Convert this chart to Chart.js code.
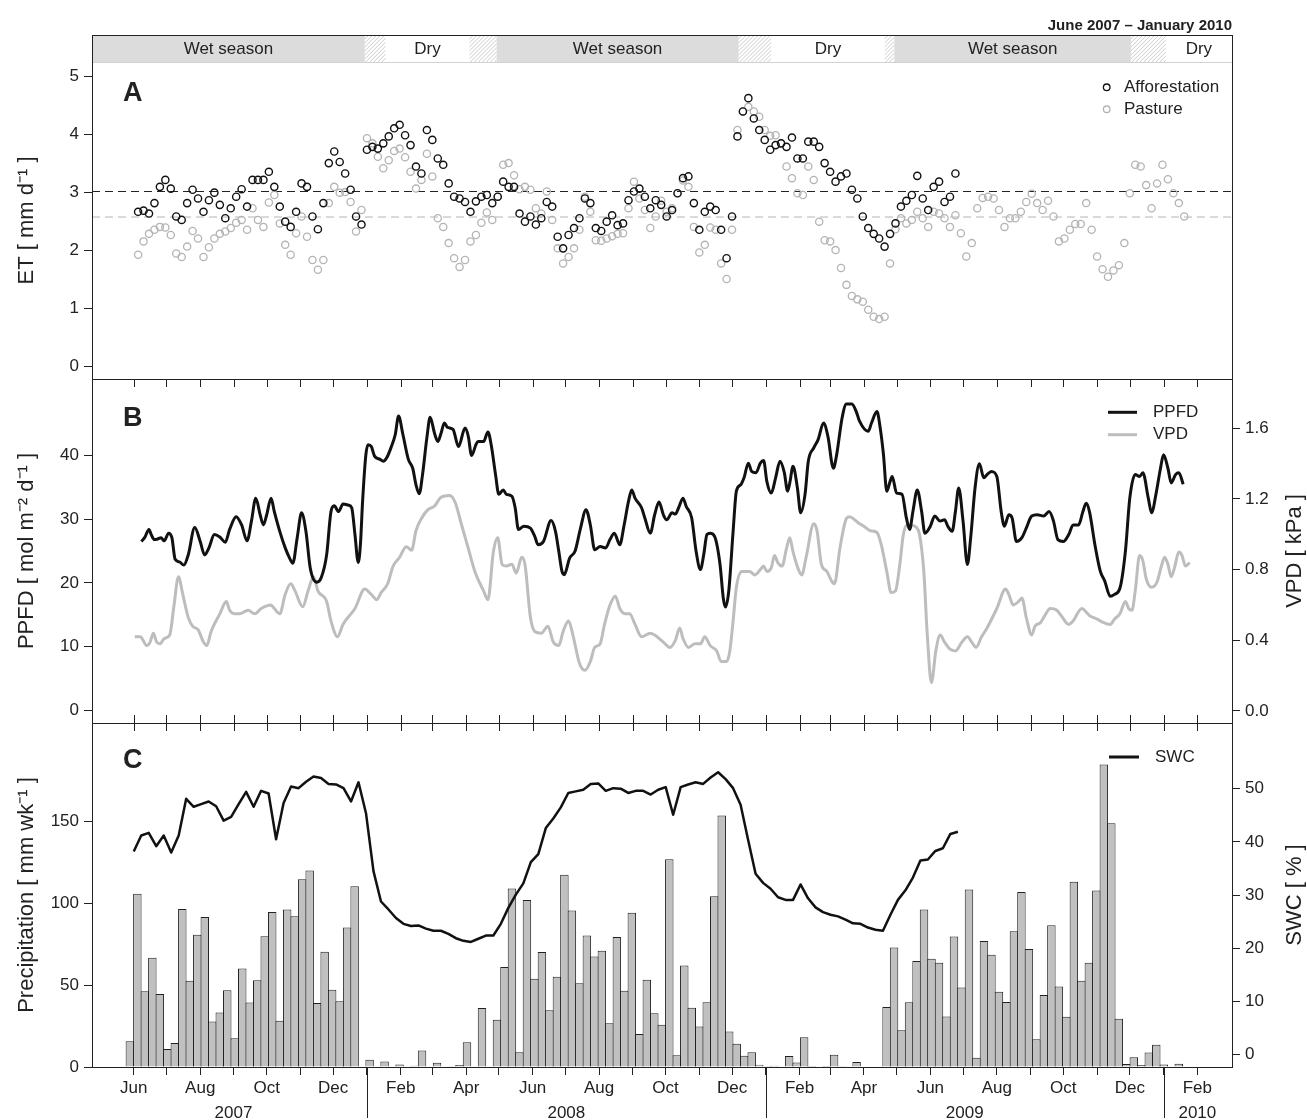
<!DOCTYPE html>
<html lang="en">
<head>
<meta charset="utf-8">
<title>ET, PPFD / VPD and precipitation / SWC, June 2007 – January 2010</title>
<script src="https://cdn.jsdelivr.net/npm/chart.js@4.4.1/dist/chart.umd.min.js"></script>
<style>
  html, body { margin: 0; background: #fff; }
  #fig { position: relative; width: 1307px; height: 1120px; overflow: hidden; }
  #fig canvas { position: absolute; left: 0; }
</style>
</head>
<body>
<div id="fig">
  <canvas id="chart-et" width="1307" height="400" style="top:0"></canvas>
  <canvas id="chart-light" width="1307" height="385" style="top:359px"></canvas>
  <canvas id="chart-rain" width="1307" height="417" style="top:703px"></canvas>
</div>
<script>
// ---- data (x values are days since 1 Jan 2007) ----
const monthNames = ['Jan', 'Feb', 'Mar', 'Apr', 'May', 'Jun', 'Jul', 'Aug', 'Sep', 'Oct', 'Nov', 'Dec'];
const years = [2007, 2008, 2009, 2010];
const periodLabel = 'June 2007 – January 2010';

const seasonNames = ['Wet season', '', 'Dry', '', 'Wet season', '', 'Dry', '', 'Wet season', '', 'Dry'];
const seasonEnds = ['2007-12-30', '2008-01-18', '2008-04-04', '2008-04-29', '2008-12-07',
  '2009-01-06', '2009-04-20', '2009-04-29', '2009-12-02', '2010-01-03'];

// panel A: ET every 5 days
const etStart = '2007-06-05';
const etStepDays = 5;
const etAfforestation = [
  2.67, 2.69, 2.64, 2.82, 3.10, 3.22, 3.07, 2.59, 2.53, 2.82,
  3.05, 2.90, 2.67, 2.87, 3.00, 2.79, 2.56, 2.73, 2.93, 3.06,
  2.76, 3.22, 3.22, 3.22, 3.36, 3.10, 2.76, 2.50, 2.41, 2.67,
  3.16, 3.10, 2.59, 2.37, 2.82, 3.51, 3.71, 3.53, 3.33, 3.05,
  2.59, 2.45, 3.74, 3.79, 3.76, 3.85, 3.97, 4.11, 4.17, 3.99,
  3.82, 3.45, 3.33, 4.08, 3.91, 3.59, 3.48, 3.16, 2.93, 2.90,
  2.84, 2.67, 2.85, 2.93, 2.96, 2.82, 2.93, 3.19, 3.10, 3.10,
  2.64, 2.50, 2.59, 2.45, 2.56, 2.84, 2.76, 2.24, 2.04, 2.27,
  2.39, 2.56, 2.90, 2.82, 2.39, 2.34, 2.50, 2.61, 2.44, 2.47,
  2.87, 3.02, 3.07, 2.93, 2.73, 2.87, 2.79, 2.59, 2.70, 2.99,
  3.25, 3.28, 2.82, 2.36, 2.67, 2.76, 2.70, 2.36, 1.87, 2.59,
  3.97, 4.40, 4.63, 4.28, 4.08, 3.91, 3.74, 3.82, 3.85, 3.79,
  3.95, 3.59, 3.59, 3.88, 3.88, 3.79, 3.51, 3.36, 3.19, 3.28,
  3.33, 3.05, 2.90, 2.59, 2.39, 2.29, 2.21, 2.07, 2.29, 2.47,
  2.76, 2.86, 2.96, 3.29, 2.90, 2.70, 3.10, 3.19, 2.84, 2.93,
  3.33
];
const etPasture = [
  1.93, 2.16, 2.29, 2.36, 2.41, 2.40, 2.27, 1.95, 1.89, 2.07,
  2.34, 2.21, 1.89, 2.06, 2.21, 2.29, 2.33, 2.39, 2.48, 2.53,
  2.36, 2.73, 2.53, 2.41, 2.83, 2.96, 2.47, 2.10, 1.93, 2.30,
  2.59, 2.24, 1.84, 1.67, 1.84, 2.82, 3.10, 3.00, 3.01, 2.84,
  2.33, 2.70, 3.94, 3.85, 3.62, 3.42, 3.56, 3.72, 3.76, 3.61,
  3.36, 3.07, 3.22, 3.67, 3.28, 2.56, 2.41, 2.13, 1.87, 1.72,
  1.84, 2.16, 2.27, 2.48, 2.66, 2.53, 2.93, 3.48, 3.51, 3.30,
  3.06, 3.10, 3.05, 2.73, 2.64, 3.02, 2.53, 2.04, 1.78, 1.89,
  2.04, 2.36, 2.93, 2.67, 2.18, 2.17, 2.21, 2.25, 2.29, 2.30,
  2.73, 3.19, 2.90, 2.70, 2.39, 2.59, 2.86, 2.67, 2.73, 2.99,
  3.21, 3.10, 2.41, 1.97, 2.10, 2.40, 2.36, 1.78, 1.51, 2.36,
  4.08, 4.40, 4.48, 4.40, 4.31, 4.08, 3.98, 3.99, 3.85, 3.45,
  3.25, 2.99, 2.96, 3.45, 3.22, 2.50, 2.18, 2.16, 2.01, 1.70,
  1.41, 1.22, 1.16, 1.12, 0.98, 0.86, 0.82, 0.86, 1.78, 2.37,
  2.56, 2.47, 2.53, 2.67, 2.56, 2.41, 2.67, 2.64, 2.56, 2.41,
  2.61, 2.30, 1.90, 2.13, 2.73, 2.91, 2.93, 2.90, 2.70, 2.41,
  2.56, 2.56, 2.67, 2.84, 2.98, 2.82, 2.70, 2.86, 2.59, 2.16,
  2.21, 2.36, 2.46, 2.46, 2.82, 2.36, 1.90, 1.68, 1.55, 1.66,
  1.75, 2.13, 2.99, 3.48, 3.45, 3.13, 2.73, 3.16, 3.48, 3.23,
  2.99, 2.82, 2.59
];
const etMeanAfforestation = 3.02;
const etMeanPasture = 2.58;

// panel B: PPFD and VPD
const ppfdDays = [
  158, 161, 165, 167, 170, 173, 176, 179, 183, 186, 189, 193, 197, 201, 207, 212, 216, 220, 225, 230,
  235, 239, 245, 250, 255, 259, 263, 267, 270, 273, 277, 280, 285, 290, 294, 297, 301, 305, 309, 313,
  319, 323, 328, 332, 335, 339, 343, 348, 351, 354, 357, 359, 361, 364, 366, 369, 372, 377, 380, 383,
  387, 391, 394, 398, 403, 407, 410, 413, 416, 420, 423, 427, 430, 433, 436, 439, 444, 449, 455, 458,
  461, 465,
  467, 472, 476, 479, 483, 486, 490, 493, 498, 501, 504, 509, 515, 519, 522, 527, 534, 538, 541, 544,
  546, 551, 556, 561, 566, 570, 574, 579, 584, 588, 592, 597, 601, 605, 608, 611, 617, 620, 625, 629,
  633, 637, 640, 645, 648, 651, 655, 658, 663, 667, 671, 674, 677, 680, 684, 689, 692, 694, 697, 701,
  704, 708, 711, 715, 718, 722, 726, 729, 732, 736, 740, 744, 748, 751, 753, 756, 760, 763, 767, 770,
  775, 779, 784, 788, 793, 796, 801, 805, 810, 814,
  817, 825, 828, 833, 836, 839, 842, 845, 847, 851, 856, 860, 863, 866, 870, 874, 877, 882, 886, 891,
  895, 898, 902, 905, 908, 912, 916, 919, 923, 927, 931, 934, 938, 943, 947, 950, 954, 957, 961, 966,
  970, 975, 980, 986, 991, 995, 999, 1004, 1009, 1013, 1018, 1022, 1025, 1028, 1033, 1038, 1042, 1047, 1051, 1056,
  1061, 1065, 1070, 1074, 1077, 1082, 1085, 1089, 1093, 1096, 1100, 1103, 1107, 1110, 1114
];
const ppfdValues = [
  26.5, 27.1, 28.4, 27.6, 26.8, 26.9, 27.1, 26.6, 27.8, 27.1, 23.7, 23.3, 22.8, 24.4, 28.7, 26.5, 24.4, 25.5, 27.6, 27.2,
  26.4, 28.4, 30.4, 29.1, 26.6, 29.7, 33.3, 30.7, 29.1, 30.7, 33.3, 31.2, 28.1, 25.5, 23.9, 23.1, 27.1, 31.0, 28.1, 22.3,
  20.1, 20.8, 24.4, 31.2, 32.1, 31.2, 32.4, 32.2, 31.8, 27.6, 23.2, 26.0, 32.8, 40.1, 41.7, 41.4, 39.9, 39.4, 39.1, 39.6,
  41.2, 43.3, 46.2, 43.3, 39.4, 38.0, 35.4, 34.0, 37.0, 42.8, 46.0, 43.5, 42.2, 43.5, 45.1, 44.4, 44.1, 41.4, 44.3, 43.0,
  40.0, 41.7,
  42.2, 42.2, 43.7, 41.7, 37.0, 33.9, 34.6, 33.9, 33.6, 31.8, 28.4, 28.9, 28.6, 27.3, 26.0, 26.5, 29.8, 28.1, 25.0, 21.8,
  21.3, 23.9, 25.0, 28.6, 31.5, 29.1, 25.2, 25.7, 25.5, 26.8, 27.8, 26.0, 29.1, 32.8, 34.6, 33.3, 31.8, 30.2, 27.8, 30.7,
  32.7, 30.7, 29.9, 31.0, 30.8, 31.8, 33.3, 32.0, 30.2, 25.0, 22.1, 24.4, 27.6, 27.8, 27.3, 22.9, 17.6, 16.2, 18.7, 28.1,
  34.4, 35.4, 36.5, 38.8, 37.5, 37.3, 38.8, 39.2, 35.9, 34.1, 36.5, 39.1, 37.3, 34.4, 35.7, 38.3, 34.9, 31.0, 33.9, 39.1,
  41.2, 42.5, 45.1, 43.0, 38.0, 40.1, 45.9, 48.1, 48.1, 46.9,
  45.4, 43.8, 45.1, 46.9, 44.3, 40.1, 34.4, 35.9, 36.7, 34.1, 33.9, 30.2, 28.4, 31.2, 34.6, 31.2, 27.8, 28.9, 30.5, 29.7,
  29.9, 28.9, 28.1, 31.2, 34.9, 29.7, 22.9, 27.1, 34.9, 38.7, 36.5, 37.0, 37.5, 36.7, 31.2, 28.9, 30.7, 30.2, 26.5, 27.1,
  28.6, 30.5, 30.7, 30.5, 31.2, 29.7, 26.8, 26.5, 27.6, 29.1, 29.1, 31.2, 32.5, 31.2, 26.0, 21.8, 20.3, 17.9, 18.2, 19.2,
  25.0, 33.3, 37.0, 36.7, 37.3, 33.3, 31.0, 33.9, 37.8, 40.1, 38.0, 35.7, 37.0, 37.3, 35.5
];
const vpdDays = [
  152, 157, 163, 166, 169, 172, 175, 179, 184, 188, 192, 196, 201, 205, 210, 215, 218, 222, 230, 236,
  239, 244, 248, 256, 262, 268, 277, 280, 285, 290, 295, 299, 306, 311, 316, 320, 328, 332, 338, 343,
  354, 363, 369, 374, 378, 384, 389, 395, 401, 406, 410, 415, 421, 427, 433, 441, 446, 452, 458,
  464, 472, 476, 481, 485, 489, 493, 498, 502, 507, 510, 515, 519, 525, 531, 536, 541, 545, 550, 554,
  560, 565, 570, 574, 579, 583, 588, 593, 597, 602, 606, 611, 617, 625, 629, 637, 643, 648, 652, 655,
  660, 666, 671, 675, 680, 686, 690, 695, 698, 701, 704, 709, 716, 721, 726, 729, 732, 736, 739, 742,
  746, 750, 753, 756, 761, 764, 768, 775, 778, 782, 787, 791, 794, 799, 805, 808, 813, 817,
  820, 827, 833, 837, 842, 846, 850, 854, 857, 860, 865, 869, 872, 876, 879, 883, 887, 891, 895, 900,
  905, 911, 916, 920, 924, 929, 934, 943, 951, 954, 958, 963, 966, 970, 975, 978, 983, 987, 992, 998,
  1002, 1009, 1013, 1021, 1025, 1028, 1035, 1041, 1047, 1051, 1056, 1061, 1064, 1067, 1070, 1074, 1077, 1080, 1085, 1090,
  1094, 1097, 1100, 1103, 1106, 1110, 1113, 1116, 1120
];
const vpdValues = [
  0.42, 0.42, 0.37, 0.39, 0.44, 0.39, 0.38, 0.41, 0.43, 0.60, 0.76, 0.66, 0.53, 0.48, 0.46, 0.39, 0.37, 0.45, 0.55, 0.62,
  0.57, 0.55, 0.55, 0.57, 0.55, 0.58, 0.60, 0.58, 0.55, 0.66, 0.72, 0.68, 0.59, 0.68, 0.76, 0.68, 0.62, 0.51, 0.42, 0.49,
  0.58, 0.69, 0.66, 0.63, 0.67, 0.72, 0.82, 0.87, 0.93, 0.91, 1.02, 1.09, 1.14, 1.16, 1.21, 1.22, 1.18, 1.05, 0.92,
  0.79, 0.68, 0.63, 0.90, 0.98, 0.83, 0.82, 0.83, 0.78, 0.87, 0.83, 0.53, 0.45, 0.44, 0.48, 0.39, 0.37, 0.45, 0.51, 0.43,
  0.27, 0.23, 0.28, 0.36, 0.38, 0.49, 0.60, 0.65, 0.58, 0.55, 0.55, 0.49, 0.42, 0.44, 0.43, 0.39, 0.36, 0.40, 0.47, 0.41,
  0.36, 0.38, 0.38, 0.42, 0.37, 0.34, 0.28, 0.28, 0.34, 0.51, 0.70, 0.79, 0.79, 0.77, 0.80, 0.82, 0.79, 0.81, 0.88, 0.84,
  0.82, 0.92, 0.98, 0.90, 0.80, 0.77, 0.87, 1.06, 1.02, 0.83, 0.79, 0.74, 0.72, 0.92, 1.09, 1.10, 1.08, 1.06,
  1.05, 1.02, 1.01, 0.94, 0.79, 0.67, 0.68, 0.83, 0.99, 1.05, 1.05, 1.04, 1.00, 0.79, 0.45, 0.16, 0.34, 0.43, 0.39, 0.35,
  0.34, 0.39, 0.42, 0.39, 0.36, 0.42, 0.47, 0.58, 0.69, 0.66, 0.60, 0.62, 0.64, 0.53, 0.43, 0.48, 0.50, 0.54, 0.58, 0.57,
  0.54, 0.49, 0.51, 0.58, 0.56, 0.54, 0.52, 0.50, 0.49, 0.52, 0.55, 0.62, 0.58, 0.57, 0.68, 0.88, 0.85, 0.75, 0.70, 0.73,
  0.82, 0.87, 0.83, 0.76, 0.81, 0.90, 0.88, 0.82, 0.84
];

// panel C: weekly precipitation and soil water content
const weekStart = '2007-05-25';
const weekStepDays = 6.875;
const precipitation = [
  15.7, 105.8, 46.2, 66.7, 44.6, 11.0, 14.7, 96.5, 52.7, 80.8,
  91.6, 27.7, 33.2, 46.8, 17.5, 60.2, 39.3, 52.9, 79.8, 94.6,
  28.3, 96.1, 92.0, 114.6, 119.9, 39.1, 70.4, 47.2, 40.1, 85.1,
  110.3, 0, 4.5, 0, 3.3, 0, 1.6, 0, 0.8, 10.0,
  0, 2.6, 0, 0.4, 1.2, 15.1, 0, 36.0, 0, 28.9,
  61.0, 108.9, 9.0, 102.0, 53.9, 70.2, 34.6, 55.1, 117.4, 95.6,
  51.1, 80.2, 67.4, 71.0, 26.7, 79.4, 46.6, 94.2, 20.1, 53.3,
  32.8, 25.8, 126.8, 7.1, 61.9, 36.2, 24.8, 39.5, 104.2, 153.6,
  21.6, 14.2, 6.9, 9.0, 1.4, 0.4, 0.8, 0, 6.7, 2.8,
  18.1, 0.6, 0, 0.6, 7.5, 0.4, 0, 3.1, 0, 0,
  0, 36.6, 72.9, 22.4, 39.5, 64.7, 96.1, 66.1, 63.7, 30.9,
  79.6, 48.6, 108.3, 5.7, 76.9, 68.6, 46.0, 39.7, 82.8, 106.8,
  72.0, 16.9, 44.0, 86.5, 49.2, 30.7, 113.1, 52.7, 63.7, 107.7,
  184.6, 148.8, 29.5, 1.8, 5.9, 1.2, 8.8, 13.6, 1.6, 0,
  2.0
];
const swcStart = '2007-06-01';
const swc = [
  38.2, 41.2, 41.7, 39.2, 41.2, 38.0, 41.2, 48.1, 46.6, 47.1,
  47.6, 46.7, 44.0, 44.7, 47.1, 49.4, 46.6, 49.6, 49.1, 40.5,
  47.3, 50.4, 50.1, 51.3, 52.3, 52.0, 50.9, 50.8, 50.1, 47.6,
  51.2, 45.4, 34.5, 28.8, 27.3, 25.7, 24.6, 24.2, 24.3, 23.7,
  23.3, 23.3, 22.7, 21.9, 21.4, 21.2, 21.8, 22.4, 22.4, 24.6,
  27.6, 30.1, 32.2, 36.2, 37.7, 42.6, 44.4, 46.5, 49.2, 49.5,
  49.8, 50.9, 51.0, 49.6, 50.1, 50.0, 49.2, 49.6, 49.6, 48.9,
  49.8, 50.3, 45.1, 50.3, 50.8, 51.2, 50.9, 52.1, 53.1, 51.8,
  50.1, 47.0, 40.4, 34.0, 32.3, 31.2, 29.6, 29.1, 29.1, 32.0,
  29.4, 27.7, 26.8, 26.3, 26.0, 25.4, 24.7, 24.6, 23.9, 23.5,
  23.3, 26.3, 29.1, 30.9, 33.3, 36.5, 36.7, 38.3, 38.8, 41.5,
  41.9
];

// ---- helpers ----
const T0 = Date.UTC(2007, 0, 1);
const X_RANGE = [112.7, 1158.8];
const FONT = "'Liberation Sans', Arial, Helvetica, sans-serif";
const ink = '#222';
const lightGrey = '#b4b4b4';

Chart.defaults.font.family = FONT;
Chart.defaults.font.size = 17;
Chart.defaults.color = ink;

function dayOf(s) {
  const [y, m, d] = s.split('-').map(Number);
  return (Date.UTC(y, m - 1, d) - T0) / 864e5;
}

function regular(start, step, values, shift = 0) {
  const d0 = dayOf(start);
  return values.map((v, i) => ({ x: d0 + i * step + shift, y: v }));
}

function pairs(days, values) {
  return days.map((d, i) => ({ x: d, y: values[i] }));
}

function flat(v) {
  return [{ x: X_RANGE[0], y: v }, { x: X_RANGE[1], y: v }];
}

const monthTicks = [];
for (let i = 2007 * 12 + 5; i <= 2010 * 12 + 1; i++) {
  const y = Math.floor(i / 12), m = i % 12;
  monthTicks.push({ value: (Date.UTC(y, m, 1) - T0) / 864e5, month: m, year: y });
}

function xAxis(visible) {
  return {
    type: 'linear', min: X_RANGE[0], max: X_RANGE[1], offset: false, display: visible,
    afterBuildTicks: s => { s.ticks = monthTicks.map(t => ({ value: t.value })); },
    afterFit: s => { if (visible) s.height = 53; },
    ticks: {
      autoSkip: false, maxRotation: 0, minRotation: 0, padding: 3, color: ink,
      callback: (v, i) => (monthTicks[i].month % 2 === 1 ? monthNames[monthTicks[i].month] : '')
    },
    grid: { drawOnChartArea: false, drawTicks: true, tickLength: 8, color: ink, offset: false },
    border: { display: visible, color: ink }
  };
}

function yAxis(pos, min, max, ticks, fmt) {
  return {
    type: 'linear', position: pos, min: min, max: max,
    afterFit: s => { s.width = pos === 'left' ? 92 : 75; },
    afterBuildTicks: s => { s.ticks = ticks.map(v => ({ value: v })); },
    ticks: { padding: 5, color: ink, callback: v => (fmt ? fmt(v) : v) },
    grid: { drawOnChartArea: false, drawTicks: true, tickLength: 8, color: ink },
    border: { display: false }
  };
}

// box, panel letter, legend, axis titles, season strip, year row
function makeDecor(cfg) {
  return {
    id: 'decor',
    afterDraw(chart) {
      const { ctx, chartArea: a } = chart;
      const px = d => chart.scales.x.getPixelForValue(d);
      ctx.save();

      const boxTop = cfg.season ? a.top - 27 : a.top;
      if (cfg.season) {
        seasonNames.forEach((name, i) => {
          const x0 = px(i === 0 ? X_RANGE[0] : dayOf(seasonEnds[i - 1]));
          const x1 = px(i === seasonNames.length - 1 ? X_RANGE[1] : dayOf(seasonEnds[i]));
          if (name === 'Wet season') {
            ctx.fillStyle = '#dcdcdc';
            ctx.fillRect(x0, boxTop, x1 - x0, 27);
          } else if (name === '') {
            ctx.save();
            ctx.beginPath();
            ctx.rect(x0, boxTop, x1 - x0, 27);
            ctx.clip();
            ctx.strokeStyle = '#cccccc';
            ctx.lineWidth = 1;
            ctx.beginPath();
            for (let x = x0 - 27; x < x1; x += 4) {
              ctx.moveTo(x, a.top);
              ctx.lineTo(x + 27, boxTop);
            }
            ctx.stroke();
            ctx.restore();
          }
          if (name) {
            ctx.fillStyle = ink;
            ctx.font = `17px ${FONT}`;
            ctx.textAlign = 'center';
            ctx.textBaseline = 'middle';
            ctx.fillText(name, (x0 + x1) / 2, a.top - 12.5);
          }
        });
        ctx.strokeStyle = '#d2d2d2';
        ctx.beginPath();
        ctx.moveTo(a.left, a.top + 0.5);
        ctx.lineTo(a.right, a.top + 0.5);
        ctx.stroke();

        ctx.fillStyle = ink;
        ctx.font = `bold 15px ${FONT}`;
        ctx.textAlign = 'right';
        ctx.textBaseline = 'alphabetic';
        ctx.fillText(periodLabel, a.right, boxTop - 5);
      }

      ctx.strokeStyle = ink;
      ctx.lineWidth = 1;
      ctx.strokeRect(a.left + 0.5, boxTop + 0.5, a.right - a.left, a.bottom - boxTop);

      // monthly ticks pointing into the panel
      ctx.beginPath();
      monthTicks.forEach(t => {
        const x = Math.round(px(t.value)) + 0.5;
        if (cfg.innerTicks.includes('top')) { ctx.moveTo(x, a.top); ctx.lineTo(x, a.top + 8); }
        if (cfg.innerTicks.includes('bottom')) { ctx.moveTo(x, a.bottom); ctx.lineTo(x, a.bottom - 8); }
      });
      ctx.stroke();

      ctx.fillStyle = ink;
      ctx.font = `bold 27px ${FONT}`;
      ctx.textAlign = 'left';
      ctx.textBaseline = 'alphabetic';
      ctx.fillText(cfg.letter, 123, a.top + cfg.letterDy);

      cfg.legend.forEach(it => {
        const y = a.top + it.dy;
        ctx.lineWidth = it.shape === 'circle' ? 1.3 : 3;
        ctx.strokeStyle = it.color;
        ctx.beginPath();
        if (it.shape === 'circle') {
          ctx.arc(cfg.legendX[0], y, 3.3, 0, 2 * Math.PI);
        } else {
          ctx.moveTo(cfg.legendX[0], y);
          ctx.lineTo(cfg.legendX[1], y);
        }
        ctx.stroke();
        ctx.fillStyle = ink;
        ctx.font = `17px ${FONT}`;
        ctx.textAlign = 'left';
        ctx.textBaseline = 'middle';
        ctx.fillText(it.text, cfg.legendTextX, y);
      });

      cfg.titles.forEach(t => {
        ctx.save();
        ctx.translate(t.side === 'left' ? 27 : 1295, (a.top + a.bottom) / 2);
        ctx.rotate(-Math.PI / 2);
        ctx.fillStyle = ink;
        ctx.font = `22px ${FONT}`;
        ctx.textAlign = 'center';
        ctx.textBaseline = 'middle';
        ctx.fillText(t.text, 0, 0);
        ctx.restore();
      });

      if (cfg.yearRow) {
        ctx.strokeStyle = ink;
        ctx.lineWidth = 1;
        ctx.beginPath();
        years.slice(1).forEach(y => {
          const x = Math.round(px((Date.UTC(y, 0, 1) - T0) / 864e5)) + 0.5;
          ctx.moveTo(x, a.bottom);
          ctx.lineTo(x, a.bottom + 51);
        });
        ctx.stroke();
        ctx.fillStyle = ink;
        ctx.font = `17px ${FONT}`;
        ctx.textAlign = 'center';
        ctx.textBaseline = 'middle';
        years.forEach(y => {
          const labelled = monthTicks.filter(t => t.year === y && t.month % 2 === 1);
          const mid = (px(labelled[0].value) + px(labelled[labelled.length - 1].value)) / 2;
          ctx.fillText(String(y), mid, a.bottom + 46);
        });
      }
      ctx.restore();
    }
  };
}

const common = {
  responsive: false,
  animation: false,
  devicePixelRatio: 1,
  events: [],
  plugins: { legend: { display: false }, tooltip: { enabled: false } }
};

// ---- panel A ----
new Chart(document.getElementById('chart-et'), {
  type: 'scatter',
  data: {
    datasets: [
      {
        label: 'Afforestation', data: regular(etStart, etStepDays, etAfforestation),
        pointRadius: 3.6, pointBorderWidth: 1.4, borderColor: '#111', pointBorderColor: '#111',
        pointBackgroundColor: 'rgba(0,0,0,0)', backgroundColor: 'rgba(0,0,0,0)'
      },
      {
        label: 'Pasture', data: regular(etStart, etStepDays, etPasture),
        pointRadius: 3.6, pointBorderWidth: 1.3, borderColor: lightGrey, pointBorderColor: lightGrey,
        pointBackgroundColor: 'rgba(0,0,0,0)', backgroundColor: 'rgba(0,0,0,0)'
      },
      {
        type: 'line', data: flat(etMeanAfforestation), borderColor: ink, borderWidth: 1,
        borderDash: [8, 5], pointRadius: 0
      },
      {
        type: 'line', data: flat(etMeanPasture), borderColor: lightGrey, borderWidth: 1,
        borderDash: [8, 5], pointRadius: 0
      }
    ]
  },
  options: Object.assign({}, common, {
    layout: { padding: { top: 62, right: 75, bottom: 21, left: 0 } },
    scales: { x: xAxis(false), y: yAxis('left', -0.213, 5.253, [0, 1, 2, 3, 4, 5]) }
  }),
  plugins: [makeDecor({
    season: true, letter: 'A', letterDy: 39, innerTicks: [],
    legendX: [1106.7], legendTextX: 1124,
    legend: [
      { shape: 'circle', color: '#111', text: 'Afforestation', dy: 25.3 },
      { shape: 'circle', color: lightGrey, text: 'Pasture', dy: 47.3 }
    ],
    titles: [{ side: 'left', text: 'ET [ mm d⁻¹ ]' }]
  })]
});

// ---- panel B ----
new Chart(document.getElementById('chart-light'), {
  type: 'line',
  data: {
    datasets: [
      {
        label: 'PPFD', data: pairs(ppfdDays, ppfdValues), yAxisID: 'y',
        borderColor: '#111', borderWidth: 3, pointRadius: 0,
        cubicInterpolationMode: 'monotone', borderJoinStyle: 'round'
      },
      {
        label: 'VPD', data: pairs(vpdDays, vpdValues), yAxisID: 'y2',
        borderColor: '#bdbdbd', borderWidth: 3, pointRadius: 0,
        cubicInterpolationMode: 'monotone', borderJoinStyle: 'round'
      }
    ]
  },
  options: Object.assign({}, common, {
    layout: { padding: { top: 20, right: 0, bottom: 21, left: 0 } },
    scales: {
      x: xAxis(false),
      y: yAxis('left', -1.99, 52.01, [0, 10, 20, 30, 40]),
      y2: yAxis('right', -0.068, 1.879, [0, 0.4, 0.8, 1.2, 1.6], v => v.toFixed(1))
    }
  }),
  plugins: [makeDecor({
    letter: 'B', letterDy: 47, innerTicks: ['top', 'bottom'],
    legendX: [1108, 1137], legendTextX: 1153,
    legend: [
      { shape: 'line', color: '#111', text: 'PPFD', dy: 33.3 },
      { shape: 'line', color: '#bdbdbd', text: 'VPD', dy: 55.7 }
    ],
    titles: [
      { side: 'left', text: 'PPFD [ mol m⁻² d⁻¹ ]' },
      { side: 'right', text: 'VPD [ kPa ]' }
    ]
  })]
});

// ---- panel C ----
new Chart(document.getElementById('chart-rain'), {
  type: 'bar',
  data: {
    datasets: [
      {
        type: 'line', label: 'SWC', data: regular(swcStart, weekStepDays, swc), yAxisID: 'y2',
        borderColor: '#111', borderWidth: 2.5, pointRadius: 0, tension: 0, order: 0,
        borderJoinStyle: 'round'
      },
      {
        type: 'bar', label: 'Precipitation',
        data: regular(weekStart, weekStepDays, precipitation, weekStepDays / 2), yAxisID: 'y',
        backgroundColor: '#c0c0c0', borderColor: ink, borderWidth: { top: 1, left: 1, right: 1, bottom: 0 },
        categoryPercentage: 1, barPercentage: 1.13, order: 1
      }
    ]
  },
  options: Object.assign({}, common, {
    layout: { padding: { top: 20, right: 0, bottom: 0, left: 0 } },
    scales: {
      x: xAxis(true),
      y: yAxis('left', 0, 210, [0, 50, 100, 150]),
      y2: yAxis('right', -2.31, 62.35, [0, 10, 20, 30, 40, 50])
    }
  }),
  plugins: [makeDecor({
    letter: 'C', letterDy: 45, innerTicks: ['top'], yearRow: true,
    legendX: [1109, 1139], legendTextX: 1155,
    legend: [{ shape: 'line', color: '#111', text: 'SWC', dy: 34 }],
    titles: [
      { side: 'left', text: 'Precipitation [ mm wk⁻¹ ]' },
      { side: 'right', text: 'SWC [ % ]' }
    ]
  })]
});
</script>
</body>
</html>
